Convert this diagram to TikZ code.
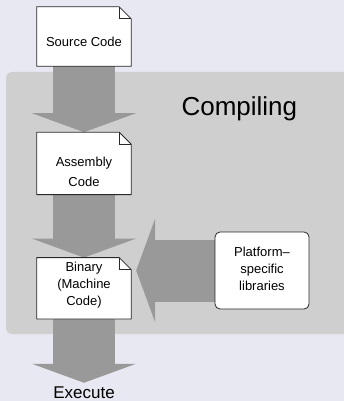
\documentclass[tikz,border=0pt]{standalone}
\usepackage{fontspec}
\setmainfont{Liberation Sans}
\usetikzlibrary{arrows.meta,positioning,backgrounds}

\definecolor{pagebg}{RGB}{232,232,243}
\definecolor{panelgray}{RGB}{207,207,207}
\definecolor{flowgray}{RGB}{153,153,153}
\definecolor{edgegray}{RGB}{40,40,40}

\tikzset{
  doc/.style={minimum width=94pt, inner sep=0pt, align=center, text depth=0pt,
    font=\fontsize{13}{17}\selectfont},
  libbox/.style={draw=edgegray, line width=0.8pt, fill=white, rounded corners=5pt,
    minimum width=94pt, minimum height=77pt, inner sep=0pt, align=center,
    text depth=0pt, text height=39pt, font=\fontsize{13}{17}\selectfont},
  bigflow/.style={flowgray, line width=62pt,
    -{Triangle[width=104pt,length=19pt,line width=0pt]}},
}

\begin{document}
\begin{tikzpicture}[x=1pt,y=-1pt]
  \useasboundingbox (0,0) rectangle (344,401);

  % files
  \node[doc, minimum height=59pt, text height=20pt] (src) at (84,36.5) {Source Code};
  \node[doc, minimum height=62pt, text height=47pt, below=66pt of src] (asm) {Assembly\\[3pt]Code};
  \node[doc, minimum height=61pt, text height=35pt, below=63pt of asm] (bin) {Binary\\(Machine\\Code)};
  \node[libbox] (plat) at (262,270.5) {Platform--\\specific\\libraries};

  \node[anchor=base west, font=\fontsize{26}{30}\selectfont] (title) at (178,115) {Compiling};
  \node[anchor=base, font=\fontsize{17}{20}\selectfont] (exe) at (84,398) {Execute};

  \coordinate (libtip) at ([xshift=5pt]bin.east |- plat.west);

  \begin{scope}[on background layer]
    \fill[pagebg] (0,0) rectangle (344,401);
    \fill[panelgray, rounded corners=6pt] (6,72) rectangle (352,334);
    \draw[bigflow] (src.south) -- (asm.north);
    \draw[bigflow] (asm.south) -- (bin.north);
    \draw[bigflow] (bin.south) -- (exe.north);
    \draw[bigflow] (plat.west) -- (libtip);
    % dog-eared outlines
    \foreach \d in {src,asm,bin} {
      \filldraw[fill=white, draw=edgegray, line width=0.8pt] (\d.north west)
        -- ([xshift=-12pt]\d.north east) -- ([yshift=-12pt]\d.north east)
        -- (\d.south east) -- (\d.south west) -- cycle;
      \draw[edgegray, line width=0.8pt] ([xshift=-12pt]\d.north east) |- ([yshift=-12pt]\d.north east);
    }
  \end{scope}
\end{tikzpicture}
\end{document}
